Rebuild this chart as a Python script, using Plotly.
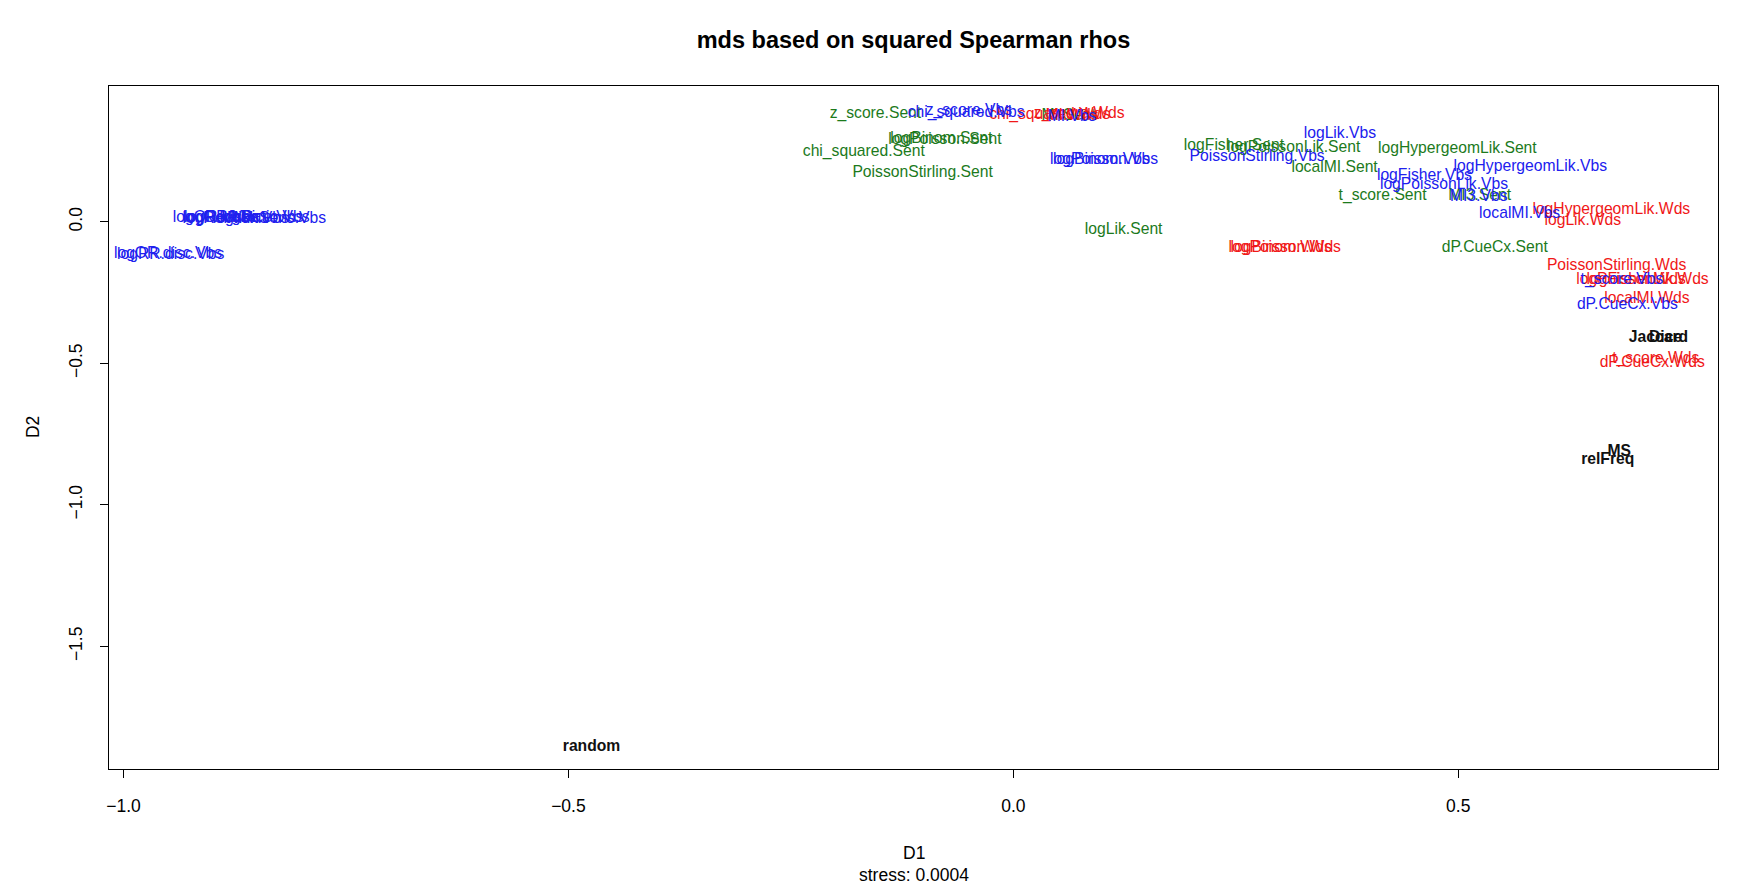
import plotly.graph_objects as go

# MDS coordinates (D1, D2) of association measures, grouped by corpus unit
sent_labels = ["z_score.Sent", "chi_squared.Sent", "PoissonStirling.Sent", "logBinom.Sent",
               "logPoisson.Sent", "logLik.Sent", "logFisher.Sent", "logPoissonLik.Sent",
               "localMI.Sent", "logHypergeomLik.Sent", "t_score.Sent", "MI3.Sent",
               "dP.CueCx.Sent", "MI.Sent"]
sent_x = [-0.155, -0.168, -0.102, -0.081, -0.077, 0.124, 0.248, 0.315,
          0.361, 0.499, 0.415, 0.524, 0.541, 0.062]
sent_y = [0.382, 0.248, 0.173, 0.291, 0.289, -0.028, 0.268, 0.260,
          0.189, 0.256, 0.091, 0.091, -0.094, 0.372]

wds_labels = ["chi_squared.Wds", "z_score.Wds", "MI.Wds", "logBinom.Wds", "logPoisson.Wds",
              "logHypergeomLik.Wds", "logLik.Wds", "PoissonStirling.Wds", "logFisher.Wds",
              "logPoissonLik.Wds", "localMI.Wds", "t_score.Wds", "dP.CueCx.Wds"]
wds_x = [0.041, 0.074, 0.066, 0.301, 0.305, 0.672, 0.640, 0.678, 0.700,
         0.707, 0.712, 0.722, 0.718]
wds_y = [0.378, 0.382, 0.374, -0.091, -0.091, 0.043, 0.004, -0.157, -0.205,
         -0.207, -0.272, -0.484, -0.500]

vbs_labels = ["z_score.Vbs", "chi_squared.Vbs", "MI.Vbs", "logBinom.Vbs", "logPoisson.Vbs",
              "PoissonStirling.Vbs", "logLik.Vbs", "logFisher.Vbs", "logHypergeomLik.Vbs",
              "logPoissonLik.Vbs", "MI3.Vbs", "localMI.Vbs", "t_score.Vbs", "dP.CueCx.Vbs",
              "logOR.disc.Vbs", "logRR.disc.Vbs",
              "logOR.Vbs", "logRR.Vbs", "logRelRisk.Vbs", "logOddsRatio.Vbs",
              "logDice.Vbs", "logMinSens.Vbs"]
vbs_x = [-0.050, -0.053, 0.066, 0.099, 0.102, 0.274, 0.367, 0.462, 0.581,
         0.484, 0.523, 0.569, 0.684, 0.690,
         -0.950, -0.947,
         -0.902, -0.890, -0.874, -0.862, -0.845, -0.836]
vbs_y = [0.390, 0.386, 0.370, 0.217, 0.217, 0.228, 0.311, 0.161, 0.193,
         0.130, 0.087, 0.028, -0.205, -0.295,
         -0.114, -0.116,
         0.012, 0.014, 0.010, 0.013, 0.015, 0.011]

base_labels = ["random", "relFreq", "MS", "Jaccard", "Dice"]
base_x = [-0.474, 0.668, 0.681, 0.725, 0.733]
base_y = [-1.854, -0.841, -0.813, -0.410, -0.410]

x_ticks = [-1.0, -0.5, 0.0, 0.5]
y_ticks = [0.0, -0.5, -1.0, -1.5]

FONT = "Liberation Sans, Arial, sans-serif"
LABEL_SIZE = 15.7
AXIS_SIZE = 17.5

fig = go.Figure()

groups = [
    (sent_labels, sent_x, sent_y, "#1c7a1c", False),
    (wds_labels, wds_x, wds_y, "#f01818", False),
    (vbs_labels, vbs_x, vbs_y, "#2020ee", False),
    (base_labels, base_x, base_y, "#111111", True),
]
for labels, xs, ys, color, bold in groups:
    fig.add_trace(go.Scatter(
        x=xs, y=ys, mode="text",
        text=[f"<b>{t}</b>" if bold else t for t in labels],
        textposition="middle center",
        textfont=dict(family=FONT, size=LABEL_SIZE, color=color),
        hoverinfo="skip", showlegend=False,
    ))

axis_common = dict(
    showgrid=False, zeroline=False, showline=True, mirror=True,
    linecolor="black", linewidth=1, ticks="outside", ticklen=8,
    tickcolor="black", tickwidth=1, tickformat=".1f",
    tickfont=dict(family=FONT, size=AXIS_SIZE, color="black"),
)

fig.update_layout(
    width=1748, height=886,
    paper_bgcolor="white", plot_bgcolor="white",
    margin=dict(l=109, r=30, t=86, b=117),
    title=dict(text="<b>mds based on squared Spearman rhos</b>",
               x=0.5, xref="paper", y=1 - 40 / 886, yref="container",
               xanchor="center", yanchor="middle",
               font=dict(family=FONT, size=23.5, color="black")),
    xaxis=dict(range=[-1.0163, 0.7919], tickvals=x_ticks,
               ticklabelstandoff=13, **axis_common),
    yaxis=dict(range=[-1.933, 0.480], tickvals=y_ticks, tickangle=-90,
               ticklabelstandoff=11, **axis_common),
    annotations=[
        dict(text="D1", x=0.5, y=-0.123, xref="paper", yref="paper",
             xanchor="center", yanchor="middle", showarrow=False,
             font=dict(family=FONT, size=AXIS_SIZE, color="black")),
        dict(text="stress: 0.0004", x=0.5, y=-0.155, xref="paper", yref="paper",
             xanchor="center", yanchor="middle", showarrow=False,
             font=dict(family=FONT, size=AXIS_SIZE, color="black")),
        dict(text="D2", x=-0.0472, y=0.5007, xref="paper", yref="paper",
             xanchor="center", yanchor="middle", textangle=-90, showarrow=False,
             font=dict(family=FONT, size=AXIS_SIZE, color="black")),
    ],
)

fig.write_html("out.html")
